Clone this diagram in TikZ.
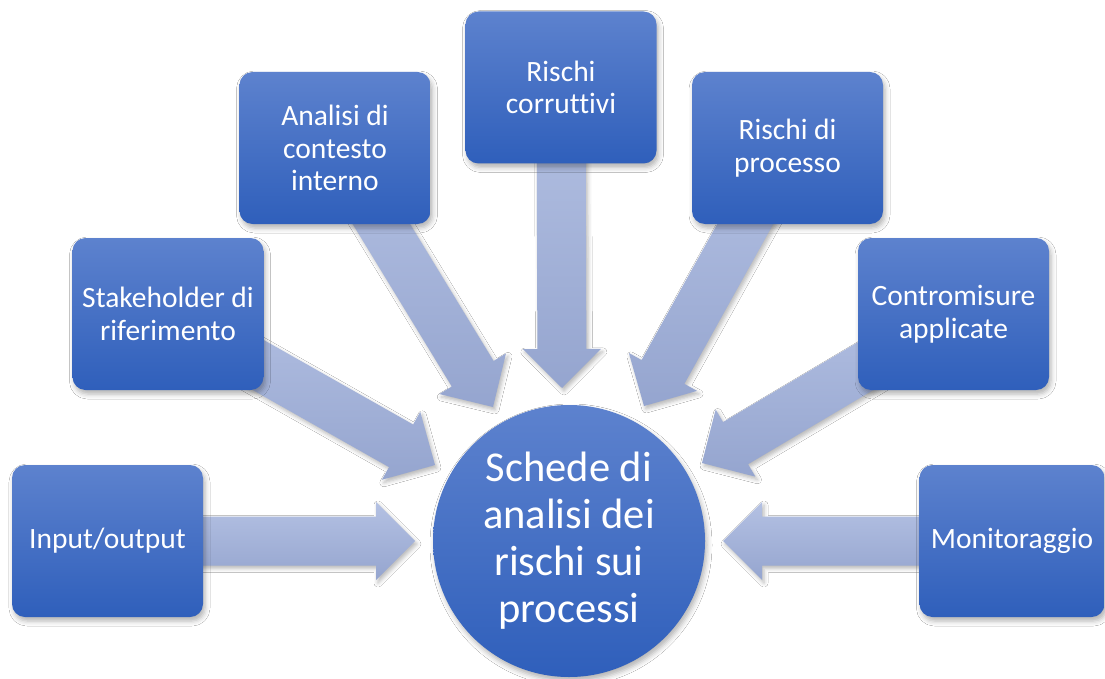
\documentclass[tikz,border=0pt]{standalone}
\usepackage{fontspec}
\setmainfont{Carlito}[Ligatures=NoCommon]
\usetikzlibrary{calc,shadows.blur}
\definecolor{boxtop}{HTML}{5D82CE}
\definecolor{boxbot}{HTML}{2F5FBB}
\definecolor{arrtop}{HTML}{B4C1E3}
\definecolor{arrbot}{HTML}{95A5CF}
\pgfdeclarelayer{bg}
\pgfsetlayers{bg,main}
\tikzset{
  softshadow/.style={blur shadow={shadow xshift=2pt, shadow yshift=-4pt, shadow blur radius=5pt, shadow opacity=30}},
  box/.style={rectangle, rounded corners=13pt, minimum width=191pt, minimum height=152pt,
    inner sep=0pt, align=center, text=white, font=\fontsize{29.5}{32.5}\selectfont,
    top color=boxtop, bottom color=boxbot, softshadow},
  hub/.style={circle, minimum size=272pt, inner sep=0pt, align=center, text=white,
    font=\fontsize{42.5}{47}\selectfont, top color=boxtop, bottom color=boxbot, softshadow},
  blockarrow/.style={top color=arrtop, bottom color=arrbot,
    blur shadow={shadow xshift=2pt, shadow yshift=-3pt, shadow blur radius=4pt, shadow opacity=28}}
}
% #1 tail (node), #2 tip (coordinate)
\newcommand\radarrow[2]{%
  \path[blockarrow]
    ($(#1)!24.5pt!90:(#2)$) --
    ($(#2)!39pt!(#1)!24.5pt!90:(#2)$) --
    ($(#2)!39pt!(#1)!39pt!90:(#2)$) --
    (#2) --
    ($(#2)!39pt!(#1)!39pt!-90:(#2)$) --
    ($(#2)!39pt!(#1)!24.5pt!-90:(#2)$) --
    ($(#1)!24.5pt!-90:(#2)$) -- cycle;}
\begin{document}
\begin{tikzpicture}[x=1pt,y=-1pt]
\useasboundingbox (0,0) rectangle (1105,679);

\node[hub] (hub) at (569,541) {Schede di\\analisi dei\\rischi sui\\processi};

\node[box] (io) at (107.5,541) {Input/output};
\node[box] (sh) at (168,314) {Stakeholder di\\riferimento};
\node[box] (an) at (335,148) {Analisi di\\contesto\\interno};
\node[box] (rc) at (561,87.5) {Rischi\\corruttivi};
\node[box] (rp) at (787.5,148) {Rischi di\\processo};
\node[box] (cm) at (953.5,314) {Contromisure\\applicate};
\node[box, minimum width=185pt] (mo) at (1012,541) {Monitoraggio};

\coordinate (t-io) at (415,541);
\coordinate (t-sh) at (435,465);
\coordinate (t-an) at (493,407);
\coordinate (t-rc) at (562,388);
\coordinate (t-rp) at (644,406);
\coordinate (t-cm) at (702,463);
\coordinate (t-mo) at (723,541);

\begin{pgfonlayer}{bg}
  \fill[white] (0,0) rectangle (1105,679);
  \radarrow{io}{t-io}
  \radarrow{sh}{t-sh}
  \radarrow{an}{t-an}
  \radarrow{rc}{t-rc}
  \radarrow{rp}{t-rp}
  \radarrow{cm}{t-cm}
  \radarrow{mo}{t-mo}
\end{pgfonlayer}
\end{tikzpicture}
\end{document}
